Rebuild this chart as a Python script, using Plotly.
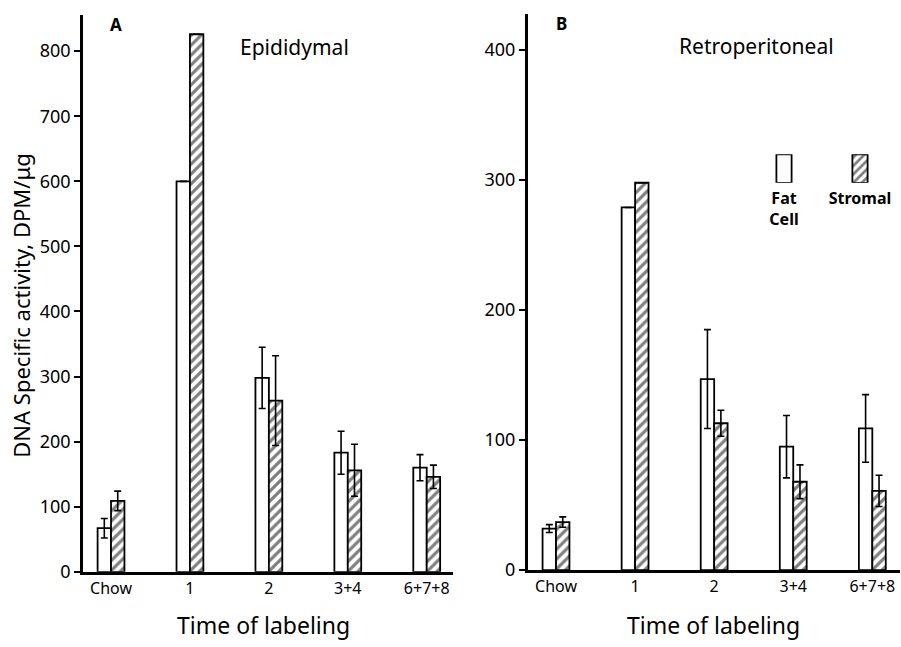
import plotly.graph_objects as go

# ---------------- data ----------------
categories = ["Chow", "1", "2", "3+4", "6+7+8"]

epi_fat = [67, 600, 298, 183, 160]
epi_fat_err = [15, None, 47, 33, 20]
epi_stromal = [109, 826, 263, 156, 146]
epi_stromal_err = [15, None, 69, 40, 18]

retro_fat = [32, 279, 147, 95, 109]
retro_fat_err = [3, None, 38, 24, 26]
retro_stromal = [37, 298, 113, 68, 61]
retro_stromal_err = [4, None, 10, 13, 12]

legend_keys = ["<b>Fat<br>Cell</b>", "<b>Stromal</b>"]
legend_vals = [1, 1]

epi_ticks = [0, 100, 200, 300, 400, 500, 600, 700, 800]
retro_ticks = [0, 100, 200, 300, 400]

# ---------------- styling ----------------
W, H = 901, 647
FONT = "Noto Sans"
BLACK = "black"

def px_x(p):
    return p / W

def px_y(p):
    return 1 - p / H

def err(arr):
    return dict(type="data", array=arr, visible=True, color=BLACK,
                thickness=1.6, width=3.5)

hatch = dict(shape="/", fgcolor=BLACK, bgcolor="white", size=7, solidity=0.45)
fat_marker = dict(color="white", line=dict(color=BLACK, width=1.8))
str_marker = dict(color="white", line=dict(color=BLACK, width=1.8), pattern=hatch)

fig = go.Figure()

fig.add_trace(go.Bar(x=categories, y=epi_fat, error_y=err(epi_fat_err),
                     marker=fat_marker, xaxis="x", yaxis="y",
                     offsetgroup="fat", name="Fat Cell"))
fig.add_trace(go.Bar(x=categories, y=epi_stromal, error_y=err(epi_stromal_err),
                     marker=str_marker, xaxis="x", yaxis="y",
                     offsetgroup="str", name="Stromal"))
fig.add_trace(go.Bar(x=categories, y=retro_fat, error_y=err(retro_fat_err),
                     marker=fat_marker, xaxis="x2", yaxis="y2",
                     offsetgroup="fat", name="Fat Cell"))
fig.add_trace(go.Bar(x=categories, y=retro_stromal, error_y=err(retro_stromal_err),
                     marker=str_marker, xaxis="x2", yaxis="y2",
                     offsetgroup="str", name="Stromal"))
fig.add_trace(go.Bar(x=[legend_keys[0]], y=[legend_vals[0]], width=0.2,
                     marker=fat_marker, xaxis="x3", yaxis="y3"))
fig.add_trace(go.Bar(x=[legend_keys[1]], y=[legend_vals[1]], width=0.2,
                     marker=dict(color="white", line=dict(color=BLACK, width=1.8),
                                 pattern=dict(shape="/", fgcolor=BLACK, bgcolor="white",
                                              size=6, solidity=0.45)),
                     xaxis="x3", yaxis="y3"))

yaxis_common = dict(showline=True, linecolor=BLACK, linewidth=2.5,
                    ticks="outside", ticklen=6, tickwidth=1.5, tickcolor=BLACK,
                    showgrid=False, zeroline=False,
                    tickfont=dict(family=FONT, size=18, color=BLACK))
xaxis_common = dict(showline=True, linecolor=BLACK, linewidth=2.5,
                    ticks="", showgrid=False, zeroline=False, type="category",
                    tickfont=dict(family=FONT, size=16, color=BLACK))

fig.update_layout(
    width=W, height=H, autosize=False,
    margin=dict(l=0, r=0, t=0, b=0),
    paper_bgcolor="white", plot_bgcolor="white",
    showlegend=False,
    barmode="group", bargap=0.66, bargroupgap=0,
    xaxis=dict(domain=[px_x(83), px_x(453)], range=[-0.355, 4.333],
               anchor="y", **xaxis_common),
    yaxis=dict(domain=[px_y(581.7), px_y(15)], range=[0, 856],
               tickvals=epi_ticks, anchor="x", **yaxis_common),
    xaxis2=dict(domain=[px_x(527.7), px_x(900)], range=[-0.358, 4.35],
                anchor="y2", **xaxis_common),
    yaxis2=dict(domain=[px_y(580), px_y(14)], range=[0, 428],
                tickvals=retro_ticks, anchor="x2", **yaxis_common),
    xaxis3=dict(domain=[px_x(746), px_x(898)], range=[-0.5, 1.5],
                anchor="y3", type="category", showline=False, ticks="",
                showgrid=False, zeroline=False, ticklabelstandoff=4,
                tickfont=dict(family=FONT, size=16, color=BLACK)),
    yaxis3=dict(domain=[px_y(186), px_y(157)], range=[0, 1], anchor="x3",
                visible=False, showgrid=False, zeroline=False),
)

ann_font = dict(family=FONT, color=BLACK)
annotations = [
    dict(text="<b>A</b>", x=116, y=25, size=17, angle=0),
    dict(text="Epididymal", x=294, y=48, size=21, angle=0),
    dict(text="<b>B</b>", x=561, y=24, size=17, angle=0),
    dict(text="Retroperitoneal", x=756, y=47, size=21, angle=0),
    dict(text="Time of labeling", x=263, y=636, size=23, angle=0),
    dict(text="Time of labeling", x=713, y=636, size=23, angle=0),
    dict(text="DNA Specific activity, DPM/\u03bcg", x=21, y=311, size=22, angle=-90),
]
for a in annotations:
    fig.add_annotation(text=a["text"], x=px_x(a["x"]), y=px_y(a["y"]),
                       xref="paper", yref="paper", showarrow=False,
                       xanchor="center", yanchor="middle", textangle=a["angle"],
                       font=dict(size=a["size"], **ann_font))

fig.write_html(
    "out.html",
    config={"displayModeBar": False},
    post_script="document.body.style.margin='0';document.body.style.overflow='hidden';",
)
